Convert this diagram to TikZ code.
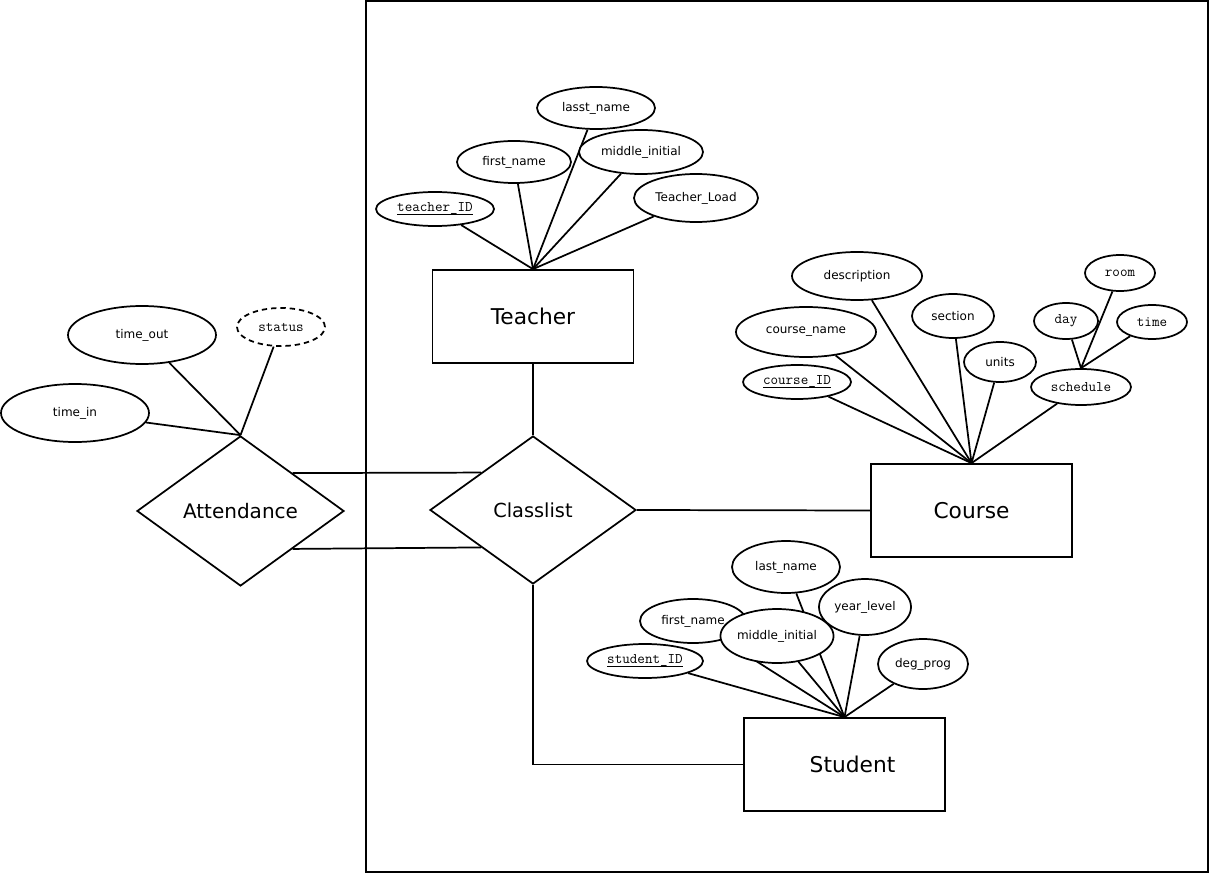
\documentclass[tikz,border=0pt]{standalone}
\usepackage{fontspec}
\setmainfont{DejaVu Sans}
\usetikzlibrary{shapes.geometric,calc,backgrounds}
\newcommand\keyul[1]{\setbox0=\hbox{#1}\leavevmode\rlap{\raisebox{-2.8pt}{\rule{\wd0}{1.3pt}}}\box0}
\tikzset{
  lnk/.style={line width=1.3pt},
  attr/.style 2 args={ellipse, draw, line width=1.3pt, fill=white, inner sep=0pt,
    minimum width=#1*1.5pt, minimum height=#2*1.5pt, font=\fontsize{9}{10}\selectfont},
  mattr/.style 2 args={attr={#1}{#2}, font=\fontsize{11}{12}\ttfamily},
  entity/.style={draw, line width=1.3pt, rectangle, inner sep=0pt,
    minimum width=150.75pt, minimum height=69.75pt, font=\fontsize{16.3}{18}\selectfont},
  rel/.style={diamond, draw, line width=1.3pt, inner sep=0pt,
    minimum width=154.5pt, minimum height=111pt, font=\fontsize{14.5}{16}\selectfont}
}
\begin{document}
\begin{tikzpicture}[x=0.75pt,y=-0.75pt]
\useasboundingbox (0,0) rectangle (1209,873);
\draw[line width=1.5pt] (366,1.5) rectangle (1207.5,871.5);

% entities and relationships
\node[entity] (tea) at (533,316.5) {Teacher};
\node[entity] (crs) at (971.5,510.5) {Course};
\node[entity] (stu) at (844.5,764.5) {\hspace*{12pt}Student};
\node[rel] (cls) at (533,510) {Classlist};
\node[rel, minimum width=155.25pt, minimum height=112.5pt, font=\fontsize{15}{17}\selectfont] (att) at (240.5,511) {Attendance};

% teacher attributes
\node[mattr={59}{17}] (tid) at (435,209) {\keyul{teacher\_ID}};
\node[attr={57}{21}] (tfn) at (514,162) {first\_name};
\node[attr={59}{21}] (tln) at (596,108) {lasst\_name};
\node[attr={62}{22}] (tmi) at (641,152) {middle\_initial};
\node[attr={62}{24}] (ttl) at (696,198) {Teacher\_Load};

% course attributes
\node[attr={65}{24}] (cde) at (857,276) {description};
\node[attr={70}{25}] (ccn) at (806,332) {course\_name};
\node[mattr={54}{17}] (cid) at (797,382) {\keyul{course\_ID}};
\node[attr={41}{22}] (cse) at (953,316) {section};
\node[attr={36}{20}] (cun) at (1000,362) {units};
\node[mattr={50}{18}] (csc) at (1081,387) {schedule};
\node[mattr={32}{18}] (cda) at (1066,321) {day};
\node[mattr={35}{18}] (cro) at (1120,273) {room};
\node[mattr={35}{17}] (cti) at (1152,322) {time};

% student attributes
\node[mattr={58}{17}] (sid) at (645,661) {\keyul{student\_ID}};
\node[attr={53}{22}] (sfn) at (693,621) {first\_name};
\node[attr={54}{26}] (sln) at (786,567) {last\_name};
\node[attr={55}{27}] (smi) at (777,636) {middle\_initial};
\node[attr={46}{28}] (syl) at (865,607) {year\_level};
\node[attr={45}{25}] (sdp) at (923,664) {deg\_prog};

% attendance attributes
\node[attr={74}{29}] (ato) at (142,335) {time\_out};
\node[attr={74}{29}] (ati) at (75,413) {time\_in};
\node[mattr={44}{19}, dash pattern=on 4pt off 3pt] (ast) at (281,327) {status};

\begin{pgfonlayer}{background}
  \foreach \a in {tid,tfn,tln,tmi,ttl} \draw[lnk] (\a) -- (tea.north);
  \foreach \a in {cid,ccn,cde,cse,cun,csc} \draw[lnk] (\a) -- (crs.north);
  \foreach \a in {cda,cro,cti} \draw[lnk] (\a) -- (csc.north);
  \foreach \a in {sid,sfn,sln,smi,syl,sdp} \draw[lnk] (\a) -- (stu.north);
  \foreach \a in {ato,ati,ast} \draw[lnk] (\a) -- (att.north);
  \draw[lnk] (tea.south) -- (cls.north);
  \draw[lnk] (cls.east) -- (crs.west);
  \draw[lnk] (cls.south) |- (stu.west);
  \draw[lnk] ($(att.north)!0.5!(att.east)$) -- ($(cls.north)!0.5!(cls.west)$);
  \draw[lnk] ($(att.south)!0.5!(att.east)$) -- ($(cls.south)!0.5!(cls.west)$);
\end{pgfonlayer}
\end{tikzpicture}
\end{document}
